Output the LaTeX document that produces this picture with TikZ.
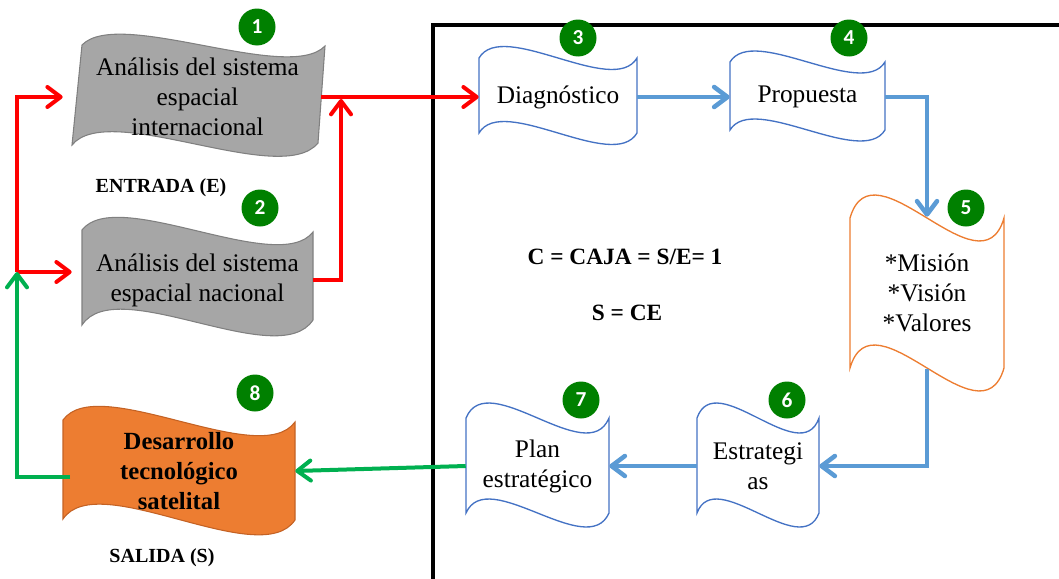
\documentclass[tikz,border=0pt]{standalone}
\usepackage{fontspec}
\setmainfont{Liberation Serif}
\newfontfamily\numfont{Carlito}
\usetikzlibrary{calc,arrows.meta}

\definecolor{tapegray}{RGB}{166,166,166}
\definecolor{tapegrayedge}{RGB}{128,128,128}
\definecolor{tapeorange}{RGB}{237,125,49}
\definecolor{tapeorangeedge}{RGB}{196,98,36}
\definecolor{tapeblue}{RGB}{68,114,196}
\definecolor{flowblue}{RGB}{91,155,213}
\definecolor{flowgreen}{RGB}{0,176,80}
\definecolor{badgegreen}{RGB}{0,128,0}

% punched-tape outline: top-left, top-right, bottom-right, bottom-left,
% wave amplitude of the top edge, wave amplitude of the bottom edge
\newcommand\tapepath[6]{(#1)
  .. controls ($(#1)!0.15!(#2)+(0,-3.46*#5)$) and ($(#2)!0.15!(#1)+(0,3.46*#5)$) .. (#2)
  -- (#3)
  .. controls ($(#3)!0.15!(#4)+(0,3.46*#6)$) and ($(#4)!0.15!(#3)+(0,-3.46*#6)$) .. (#4)
  -- cycle}

\begin{document}
\begin{tikzpicture}[x=0.75pt,y=-0.75pt,
  txt/.style={font=\fontsize{19}{22.5}\selectfont, align=center, inner sep=0pt},
  bigbold/.style={font=\bfseries\fontsize{17.5}{21}\selectfont, inner sep=0pt},
  label/.style={font=\bfseries\fontsize{15}{18}\selectfont, inner sep=0pt},
  graytape/.style={fill=tapegray, draw=tapegrayedge, line width=0.8pt},
  orangetape/.style={fill=tapeorange, draw=tapeorangeedge, line width=0.8pt},
  bluetape/.style={fill=white, draw=tapeblue, line width=1pt},
  orangeline/.style={fill=white, draw=tapeorange, line width=1pt},
  badge/.style={circle, fill=badgegreen, minimum size=27.75pt, inner sep=0pt,
    text=white, font=\numfont\bfseries\fontsize{16}{16}\selectfont},
  tip/.style={-{Straight Barb[round,length=10pt,width=15pt]}},
  redline/.style={draw=red, line width=3pt, tip},
  blueline/.style={draw=flowblue, line width=3.4pt, tip},
  greenline/.style={draw=flowgreen, line width=3pt, tip}]

\useasboundingbox (0,0) rectangle (1059,578);

% the box C
\draw[line width=3pt] (433,600) -- (433,25) -- (1080,25);

% tape shapes
\draw[graytape]   \tapepath{82,45}{325,46}{318,143}{72,145}{11}{13};
\draw[graytape]   \tapepath{82,230}{313,232}{313,320}{82,325}{13}{15};
\draw[orangetape] \tapepath{63,420}{295,422}{295,520}{63,519}{14}{15};
\draw[bluetape]   \tapepath{479,58}{637,58}{637,133}{479,133}{11.5}{11.5};
\draw[bluetape]   \tapepath{730,62}{885,62}{885,130}{730,130}{11}{11};
\draw[orangeline] \tapepath{850,218}{1004,218}{1004,368}{850,368}{23}{23};
\draw[bluetape]   \tapepath{697,418}{819,418}{819,513}{697,513}{15}{14};
\draw[bluetape]   \tapepath{466,418}{609,418}{609,513}{466,513}{15}{14};

% texts of the stages
\node[txt, minimum width=185.25pt, minimum height=72pt] (s1) at (197.5,97)
  {Análisis del sistema\\espacial\\internacional};
\node[txt, minimum width=173.25pt, minimum height=71.25pt] (s2) at (197.5,280)
  {Análisis del sistema\\espacial nacional};
\node[txt, minimum width=118.5pt, minimum height=56.25pt] (s3) at (558,97)
  {Diagnóstico};
\node[txt, minimum width=116.25pt, minimum height=51pt] (s4) at (807.5,97)
  {Propuesta};
\node[txt, minimum width=115.5pt, minimum height=114pt] (s5) at (927,293)
  {*Misión\\*Visión\\*Valores};
\node[txt, minimum width=91.5pt, minimum height=71.25pt] (s6) at (758,466)
  {Estrategi\\as};
\node[txt, minimum width=107.25pt, minimum height=71.25pt] (s7) at (537.5,466)
  {Plan\\estratégico};
\node[txt, font=\bfseries\fontsize{18.5}{22.5}\selectfont,
  minimum width=174pt, minimum height=75pt] (s8) at (179,471)
  {Desarrollo\\tecnológico\\satelital};

% free texts
\node[label] (entrada) at (161,188) {ENTRADA (E)};
\node[label] (salida) at (162,558) {SALIDA (S)};
\node[bigbold] (caja) at (625,257) {C = CAJA = S/E= 1};
\node[bigbold] (sce) at (627,313) {S = CE};

% junction points
\coordinate (rj) at (341,99);
\coordinate (lj) at (17,272);
\coordinate (gj) at (70,477);

% input connectors
\draw[redline] (s1.east) -- (s3.west);
\draw[redline] (s2.east) -| (rj);
\draw[redline, shorten >=8.25pt] (lj) |- (s1.west);
\draw[redline, shorten >=7.5pt] (lj) -- (lj -| s2.west);

% process connectors
\draw[blueline] (s3.east) -- (s4.west);
\draw[blueline] (s4.east) -| (s5.north);
\draw[blueline] (s5.south) |- (s6.east);
\draw[blueline] (s6.west) -- (s7.east);

% output and feedback
\draw[greenline] (s7.west) -- (s8.east);
\draw[greenline] (gj) -| (lj);

% step numbers
\node[badge] (b1) at (257,27) {1};
\node[badge] (b2) at (260,208) {2};
\node[badge] (b3) at (578,38) {3};
\node[badge] (b4) at (849,38) {4};
\node[badge] (b5) at (966,208) {5};
\node[badge] (b6) at (787,400) {6};
\node[badge] (b7) at (581,400) {7};
\node[badge] (b8) at (255,393) {8};

\end{tikzpicture}
\end{document}
